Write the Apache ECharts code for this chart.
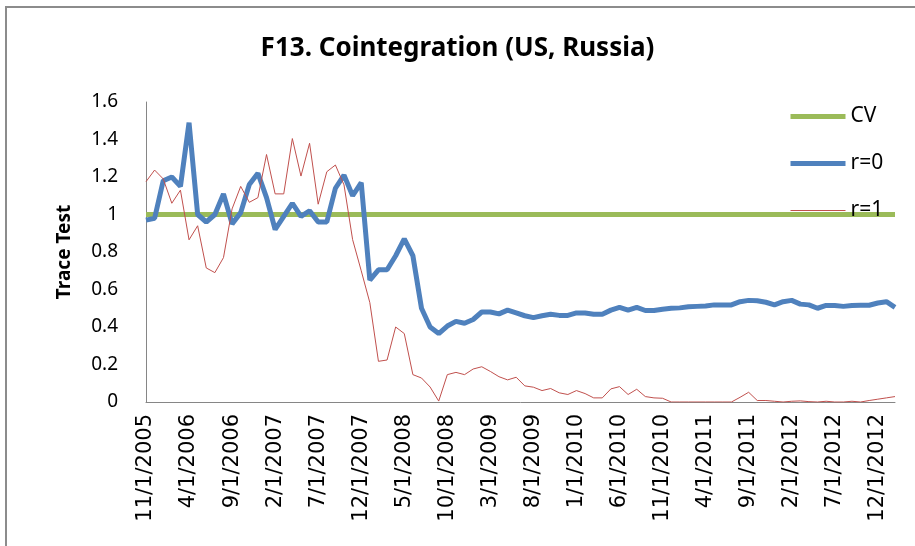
<!DOCTYPE html>
<html>
<head>
<meta charset="utf-8">
<script src="https://cdn.jsdelivr.net/npm/echarts@6/dist/echarts.min.js"></script>
<style>
html, body { margin: 0; padding: 0; background: #fff; }
#main { width: 915px; height: 546px; }
</style>
</head>
<body>
<div id="main"></div>
<script>
// monthly categories, 11/1/2005 .. 2/1/2013
var startYear = 2005, startMonth = 11, monthCount = 88;
var months = [];
for (var k = 0; k < monthCount; k++) {
    var m = (startMonth - 1 + k) % 12 + 1;
    var y = startYear + Math.floor((startMonth - 1 + k) / 12);
    months.push(m + '/1/' + y);
}

// critical value level
var cvLevel = 1;

// r=0 trace test
var r0 = [
    0.97, 0.98, 1.18, 1.20, 1.15, 1.49, 1.00, 0.96, 1.00, 1.11,
    0.95, 1.01, 1.16, 1.22, 1.09, 0.92, 0.99, 1.06, 0.99, 1.02,
    0.96, 0.96, 1.14, 1.21, 1.10, 1.17, 0.65, 0.705, 0.705, 0.78,
    0.87, 0.78, 0.50, 0.40, 0.365, 0.405, 0.43, 0.42, 0.44, 0.48,
    0.48, 0.47, 0.49, 0.475, 0.46, 0.45, 0.46, 0.468, 0.462, 0.462,
    0.475, 0.475, 0.468, 0.468, 0.49, 0.505, 0.49, 0.505, 0.488, 0.488,
    0.495, 0.50, 0.502, 0.508, 0.51, 0.512, 0.518, 0.518, 0.518, 0.535,
    0.542, 0.54, 0.532, 0.518, 0.535, 0.542, 0.522, 0.518, 0.50, 0.515,
    0.515, 0.51, 0.515, 0.516, 0.516, 0.528, 0.535, 0.505
];

// r=1 trace test
var r1 = [
    1.175, 1.237, 1.19, 1.06, 1.13, 0.865, 0.94, 0.715, 0.69, 0.77,
    1.03, 1.15, 1.065, 1.09, 1.32, 1.11, 1.11, 1.405, 1.205, 1.38,
    1.055, 1.228, 1.264, 1.158, 0.866, 0.70, 0.53, 0.217, 0.224, 0.40,
    0.365, 0.146, 0.128, 0.08, 0.005, 0.146, 0.158, 0.146, 0.176, 0.188,
    0.163, 0.135, 0.118, 0.132, 0.086, 0.079, 0.061, 0.072, 0.049, 0.04,
    0.061, 0.045, 0.022, 0.022, 0.07, 0.082, 0.04, 0.068, 0.029, 0.022,
    0.02, 0, 0, 0, 0, 0, 0, 0, 0, 0.025,
    0.052, 0.008, 0.008, 0.004, 0, 0.004, 0.006, 0.002, 0, 0.004,
    0, 0, 0.004, 0, 0.008, 0.015, 0.022, 0.029
];

var cv = months.map(function () { return cvLevel; });

var myChart = echarts.init(document.getElementById('main'));

var option = {
    backgroundColor: '#fff',
    animation: false,
    title: {
        text: 'F13. Cointegration (US, Russia)',
        left: 'center',
        top: 31,
        textStyle: {
            fontFamily: 'Noto Sans',
            fontSize: 26,
            fontWeight: 'bold',
            color: '#000'
        }
    },
    graphic: [{
        type: 'rect',
        shape: { x: 6, y: 7, width: 1000, height: 1000 },
        style: { fill: 'none', stroke: '#8c8c8c', lineWidth: 2 },
        silent: true
    }],
    legend: {
        orient: 'vertical',
        left: 783,
        top: 101,
        itemWidth: 55,
        itemHeight: 14,
        itemGap: 26,
        itemStyle: { opacity: 0 },
        textStyle: { fontFamily: 'Noto Sans', fontSize: 21, color: '#000' },
        data: [
            { name: 'CV', lineStyle: { width: 5 } },
            { name: 'r=0', lineStyle: { width: 5 } },
            { name: 'r=1', lineStyle: { width: 1 } }
        ]
    },
    grid: {
        left: 146,
        right: 20,
        top: 102,
        bottom: 144
    },
    xAxis: {
        type: 'category',
        data: months,
        boundaryGap: false,
        axisLine: { lineStyle: { color: '#868686', width: 1 } },
        axisTick: { show: false },
        axisLabel: {
            interval: 4,
            rotate: 90,
            margin: 12,
            fontFamily: 'DejaVu Sans',
            fontSize: 21,
            color: '#000'
        }
    },
    yAxis: {
        type: 'value',
        min: 0,
        max: 1.6,
        interval: 0.2,
        name: 'Trace Test',
        nameLocation: 'middle',
        nameGap: 72,
        nameTextStyle: {
            fontFamily: 'Noto Sans',
            fontSize: 19,
            fontWeight: 'bold',
            color: '#000'
        },
        axisLine: { show: true, lineStyle: { color: '#868686', width: 1 } },
        axisTick: { show: false },
        splitLine: { show: false },
        axisLabel: {
            margin: 28,
            fontFamily: 'Noto Sans',
            fontSize: 19,
            color: '#000'
        }
    },
    series: [{
        name: 'CV',
        type: 'line',
        data: cv,
        symbol: 'none',
        lineStyle: { color: '#9BBB59', width: 5 },
        itemStyle: { color: '#9BBB59' }
    }, {
        name: 'r=0',
        type: 'line',
        data: r0,
        symbol: 'none',
        lineStyle: { color: '#4F81BD', width: 5 },
        itemStyle: { color: '#4F81BD' }
    }, {
        name: 'r=1',
        type: 'line',
        data: r1,
        symbol: 'none',
        lineStyle: { color: '#C0504D', width: 1 },
        itemStyle: { color: '#C0504D' }
    }]
};

myChart.setOption(option);
</script>
</body>
</html>
